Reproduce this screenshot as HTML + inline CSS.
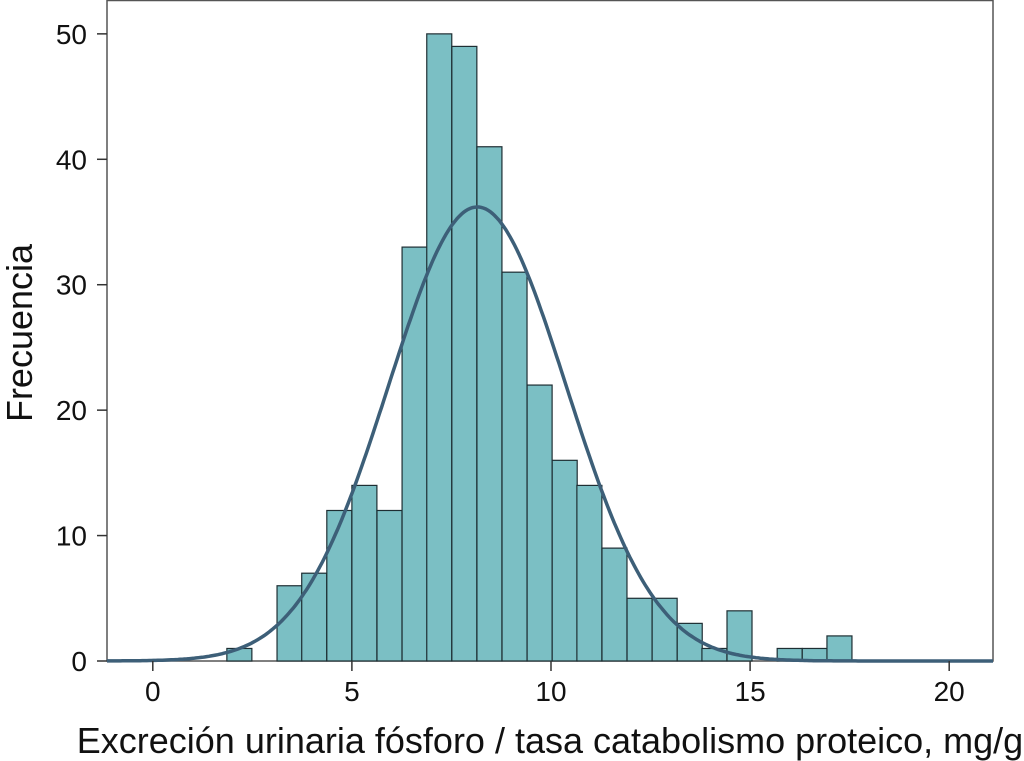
<!DOCTYPE html>
<html><head><meta charset="utf-8"><style>
body{margin:0;background:#fff}
svg{display:block;font-family:"Liberation Sans",sans-serif}
</style></head><body>
<svg id="chart" width="1024" height="761"></svg>
<script>
const binStarts=[1.86,2.49,3.12,3.74,4.37,5.0,5.63,6.26,6.88,7.51,8.14,8.77,9.40,10.03,10.65,11.28,11.91,12.54,13.17,13.79,14.42,15.05,15.68,16.31,16.93];
const binCounts=[1,0,6,7,12,14,12,33,50,49,41,31,22,16,14,9,5,5,3,1,4,0,1,1,2];
const binWidth=0.628;
const xTicks=[0,5,10,15,20];
const yTicks=[0,10,20,30,40,50];
const curveMean=8.15, curveSd=2.23, curvePeak=36.2;
const svg=document.getElementById('chart');
const NS='http://www.w3.org/2000/svg';
const L=107,R=993,T=0,B=661;
const xMin=-1.15,xMax=21.1,yMin=0,yMax=52.7;
const xs=v=>L+(v-xMin)/(xMax-xMin)*(R-L);
const ys=v=>B-(v-yMin)/(yMax-yMin)*(B-T);
function mk(t,a){const e=document.createElementNS(NS,t);for(const k in a)e.setAttribute(k,a[k]);svg.appendChild(e);return e;}
const frame=mk('rect',{x:L,y:T+0.5,width:R-L,height:B-T-0.5,fill:'none',stroke:'#555','stroke-width':1.5});


binStarts.forEach((s,i)=>{
  if(binCounts[i]<=0)return;
  const r=mk('rect',{x:xs(s),y:ys(binCounts[i]),width:xs(s+binWidth)-xs(s),height:ys(0)-ys(binCounts[i]),fill:'#7bbfc4',stroke:'#1e2e33','stroke-width':1.2});
  
  
});
let d='';
for(let i=0;i<=400;i++){const x=xMin+(xMax-xMin)*i/400;const y=curvePeak*Math.exp(-Math.pow(x-curveMean,2)/(2*curveSd*curveSd));d+=(i?'L':'M')+xs(x).toFixed(1)+','+ys(y).toFixed(1);}
const c=mk('path',{d:d,fill:'none',stroke:'#3d5f78','stroke-width':3.5});


xTicks.forEach(v=>{
  const t=mk('line',{x1:xs(v),x2:xs(v),y1:B,y2:B+10,stroke:'#333','stroke-width':1.5});
  
  
  const l=mk('text',{x:xs(v),y:B+40,'text-anchor':'middle','font-size':28,fill:'#111'});l.textContent=v;
  
  
});
yTicks.forEach(v=>{
  const t=mk('line',{x1:L-10,x2:L,y1:ys(v),y2:ys(v),stroke:'#333','stroke-width':1.5});
  
  
  const l=mk('text',{x:L-20,y:ys(v)+10,'text-anchor':'end','font-size':28,fill:'#111'});l.textContent=v;
  
  
});
const xt=mk('text',{x:550,y:753,'text-anchor':'middle','font-size':36,fill:'#111'});xt.textContent='Excreción urinaria fósforo / tasa catabolismo proteico, mg/g';


const yt=mk('text',{x:0,y:0,'text-anchor':'middle','font-size':36,fill:'#111',transform:'translate(32,333) rotate(-90)'});yt.textContent='Frecuencia';


</script>
</body></html>
